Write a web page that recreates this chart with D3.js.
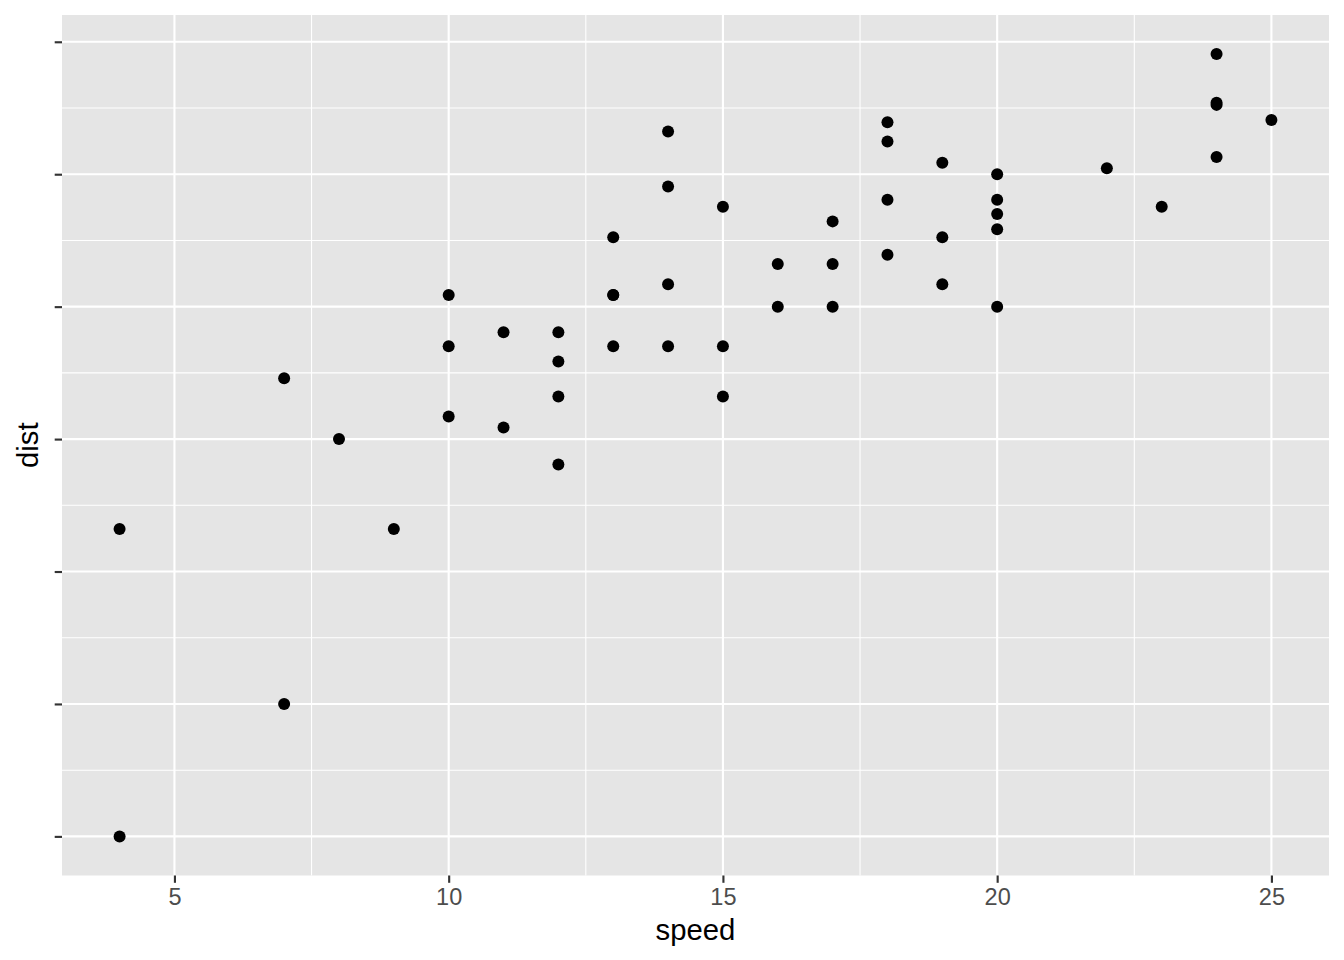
<!DOCTYPE html>
<html><head><meta charset="utf-8">
<script src="https://cdn.jsdelivr.net/npm/d3@7"></script>
<style>body{margin:0;background:#fff}svg{display:block;font-family:"Liberation Sans",Arial,sans-serif}</style>
</head><body><svg id="c" width="1344" height="960"></svg>
<script>
const speed = [4,4,7,7,8,9,10,10,10,11,11,12,12,12,12,13,13,13,13,14,14,14,14,15,15,15,16,16,17,17,17,18,18,18,18,19,19,19,20,20,20,20,20,22,23,24,24,24,24,25];
const dist  = [2,10,4,22,16,10,18,26,34,17,28,14,20,24,28,26,34,34,46,26,36,60,80,20,26,54,32,40,32,40,50,42,56,76,84,36,46,68,32,48,52,56,64,66,54,70,92,93,120,85];
const xTicks = [5,10,15,20,25];
const xMinor = [7.5,12.5,17.5,22.5];
const yTicks = [2,4,8,16,32,64,128];
const yMinor = [Math.pow(2,1.5),Math.pow(2,2.5),Math.pow(2,3.5),Math.pow(2,4.5),Math.pow(2,5.5),Math.pow(2,6.5)];

const svg = d3.select("#c");
const L=62, R=1329, T=15, B=875.5;
const xmin=d3.min(speed), xmax=d3.max(speed), xe=(xmax-xmin)*0.05;
const x = d3.scaleLinear().domain([xmin-xe,xmax+xe]).range([L,R]);
const lmin=Math.log2(d3.min(dist)), lmax=Math.log2(d3.max(dist)), le=(lmax-lmin)*0.05;
const y = d3.scaleLog().base(2).domain([Math.pow(2,lmin-le),Math.pow(2,lmax+le)]).range([B,T]);

svg.append("rect").attr("x",L).attr("y",T).attr("width",R-L).attr("height",B-T).attr("fill","#e5e5e5");
const g = svg.append("g");
g.selectAll(".xm").data(xMinor).join("line").attr("x1",d=>x(d)).attr("x2",d=>x(d)).attr("y1",T).attr("y2",B).attr("stroke","#fff").attr("stroke-width",1.07);
g.selectAll(".ym").data(yMinor).join("line").attr("y1",d=>y(d)).attr("y2",d=>y(d)).attr("x1",L).attr("x2",R).attr("stroke","#fff").attr("stroke-width",1.07);
g.selectAll(".xM").data(xTicks).join("line").attr("x1",d=>x(d)).attr("x2",d=>x(d)).attr("y1",T).attr("y2",B).attr("stroke","#fff").attr("stroke-width",2.13);
g.selectAll(".yM").data(yTicks).join("line").attr("y1",d=>y(d)).attr("y2",d=>y(d)).attr("x1",L).attr("x2",R).attr("stroke","#fff").attr("stroke-width",2.13);

const xAxis = svg.append("g").attr("transform",`translate(0,${B})`)
  .call(d3.axisBottom(x).tickValues(xTicks).tickSize(7.3).tickPadding(6).tickFormat(d3.format("d")));
xAxis.select(".domain").remove();
xAxis.attr("font-family",null).attr("font-size",null);
xAxis.selectAll(".tick line").attr("stroke","#333").attr("stroke-width",2.13);
xAxis.selectAll(".tick text").attr("fill","#4d4d4d").style("font-size","23.5px");

const yAxis = svg.append("g").attr("transform",`translate(${L},0)`)
  .call(d3.axisLeft(y).tickValues(yTicks).tickSize(7.3).tickFormat(()=>""));
yAxis.select(".domain").remove();
yAxis.selectAll(".tick line").attr("stroke","#333").attr("stroke-width",2.13);

svg.selectAll(".pt").data(speed.map((s,i)=>[s,dist[i]])).join("circle")
  .attr("cx",d=>x(d[0])).attr("cy",d=>y(d[1])).attr("r",6).attr("fill","#000");

svg.append("text").attr("x",(L+R)/2).attr("y",940).attr("text-anchor","middle").attr("fill","#000").style("font-size","29.3px").text("speed");
svg.append("text").attr("transform",`translate(38,${(T+B)/2}) rotate(-90)`).attr("text-anchor","middle").attr("fill","#000").style("font-size","29.3px").text("dist");
</script></body></html>
